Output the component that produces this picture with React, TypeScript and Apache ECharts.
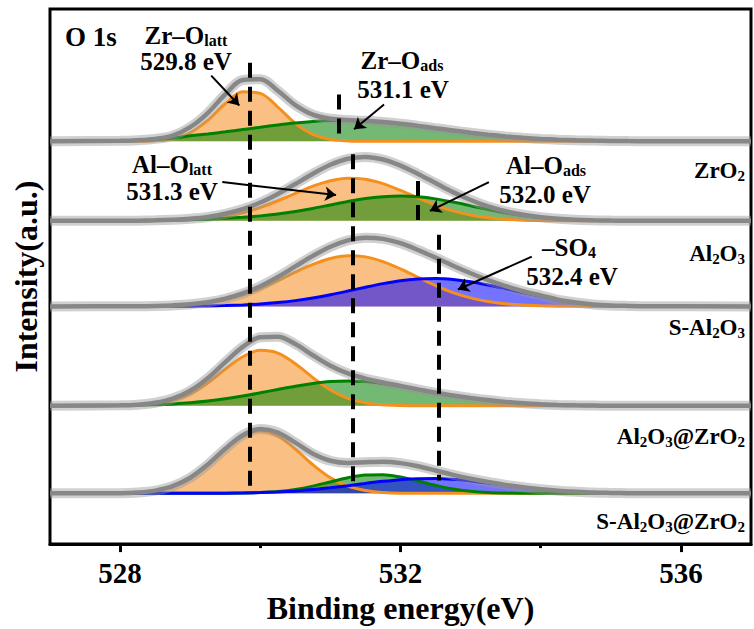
import React, { useEffect, useRef } from 'react';
import * as echarts from 'echarts';

const SERIF = "'Liberation Serif','Times New Roman',Times,serif";

// Binding energy grid (eV) used for all fitted components
const energy = [528, 528.25, 528.5, 528.75, 529, 529.25, 529.5, 529.75, 530, 530.25, 530.5, 530.75, 531, 531.25, 531.5, 531.75, 532, 532.25, 532.5, 532.75, 533, 533.25, 533.5, 533.75, 534, 534.25, 534.5, 534.75, 535, 535.25, 535.5];
const energyRange = [527, 537];

// ZrO2
const zrO2Latt = [0, 0.1, 0.6, 2.6, 8.6, 21, 37.7, 49.8, 48.2, 34.4, 18, 6.9, 1.9, 0.4, 0.1, 0, 0, 0, 0, 0, 0, 0, 0, 0, 0, 0, 0, 0, 0, 0, 0];
const zrO2Ads = [0.5, 1.0, 1.8, 3.0, 5.6, 7.4, 9.5, 11.8, 14.1, 16.4, 18.4, 19.9, 20.8, 21.0, 20.5, 19.3, 17.6, 15.5, 13.2, 10.9, 8.6, 6.6, 4.9, 3.5, 2.4, 1.6, 1.1, 0.7, 0.4, 0.2, 0.1];
// Al2O3
const al2o3Latt = [0, 0.1, 0.2, 0.5, 1.1, 2.3, 4.6, 8.2, 13.4, 20.1, 27.6, 34.9, 40.4, 42.9, 41.8, 37.4, 30.6, 23.0, 15.9, 10.0, 5.8, 3.1, 1.5, 0.7, 0.3, 0.1, 0, 0, 0, 0, 0];
const al2o3Ads = [0, 0.1, 0.3, 0.6, 1.0, 1.6, 2.5, 3.6, 5.0, 7.0, 9.5, 12.5, 16.0, 19.5, 22.5, 24.3, 25, 24.2, 22.1, 18.9, 15.2, 11.4, 8.1, 5.4, 3.4, 2.0, 1.1, 0.6, 0.3, 0.1, 0];
// S-Al2O3
const sAl2o3Latt = [0.1, 0.2, 0.4, 0.9, 1.9, 3.8, 6.9, 11.6, 18.0, 25.8, 34.4, 42.3, 48.2, 50.9, 49.8, 45.0, 37.7, 29.2, 21.0, 13.9, 8.6, 4.9, 2.6, 1.3, 0.6, 0.2, 0.1, 0, 0, 0, 0];
const sAl2o3Sulfate = [0, 0, 0, 0.1, 0.2, 0.4, 0.8, 1.4, 2.3, 3.8, 5.8, 8.5, 11.7, 15.4, 19.3, 22.9, 25.8, 27.5, 28.0, 27.0, 24.7, 21.5, 17.8, 13.9, 10.4, 6.5, 3.8, 2.0, 1.0, 0.5, 0.2];
// Al2O3@ZrO2
const alZrLatt = [0.2, 0.6, 2.0, 5.4, 12.1, 23.0, 36.8, 49.4, 55.8, 53.0, 42.3, 28.4, 16.0, 7.6, 3.0, 1.0, 0.3, 0.1, 0, 0, 0, 0, 0, 0, 0, 0, 0, 0, 0, 0, 0];
const alZrAds = [0.3, 0.6, 1.1, 1.9, 3.1, 4.8, 7.1, 9.9, 13.1, 16.5, 19.8, 22.5, 24.4, 25, 24.4, 22.5, 19.8, 16.5, 13.1, 10.5, 8.0, 5.8, 4.0, 2.6, 1.6, 0.9, 0.5, 0.3, 0.1, 0, 0];
// S-Al2O3@ZrO2
const sAlZrLatt = [0.2, 0.9, 2.8, 7.2, 15.7, 28.8, 44.5, 57.8, 63, 57.8, 44.5, 28.8, 15.7, 7.2, 2.8, 0.9, 0.2, 0.1, 0, 0, 0, 0, 0, 0, 0, 0, 0, 0, 0, 0, 0];
const sAlZrAds = [0, 0, 0, 0, 0, 0, 0.1, 0.3, 0.8, 1.9, 4.0, 7.3, 11.5, 15.7, 18.5, 18.8, 16.4, 12.4, 8.1, 4.5, 2.2, 0.9, 0.3, 0.1, 0, 0, 0, 0, 0, 0, 0];
const sAlZrSulfate = [0, 0, 0, 0, 0, 0.1, 0.2, 0.4, 0.8, 1.5, 2.5, 3.8, 5.6, 7.7, 10.0, 12.1, 13.8, 14.8, 14.9, 14.1, 12.5, 10.5, 8.2, 6.0, 4.2, 2.7, 1.7, 0.9, 0.5, 0.2, 0.1];

const panelNames = ['ZrO2', 'Al2O3', 'S-Al2O3', 'Al2O3@ZrO2', 'S-Al2O3@ZrO2'];
const panelLabels = [
  '{n|ZrO}{s|2}',
  '{n|Al}{s|2}{n|O}{s|3}',
  '{n|S-Al}{s|2}{n|O}{s|3}',
  '{n|Al}{s|2}{n|O}{s|3}{n|@ZrO}{s|2}',
  '{n|S-Al}{s|2}{n|O}{s|3}{n|@ZrO}{s|2}',
];
const baselines = [405, 325, 239, 139, 51];
const panelComponents: [string, number[]][][] = [
  [['latt', zrO2Latt], ['ads', zrO2Ads]],
  [['latt', al2o3Latt], ['ads', al2o3Ads]],
  [['latt', sAl2o3Latt], ['so4', sAl2o3Sulfate]],
  [['latt', alZrLatt], ['ads', alZrAds]],
  [['latt', sAlZrLatt], ['ads', sAlZrAds], ['so4', sAlZrSulfate]],
];

// reference dashed lines (eV, from, to)
const guideEnergy = [529.85, 531.12, 531.32, 532.25, 532.55];
const guideTop = [484, 452, 392, 365, 311];
const guideBottom = [50, 405, 62, 322, 64];

// annotation arrows
const arrowFrom = [[529.3, 471], [531.765, 442], [529.457, 364], [533.261, 364], [533.873, 289]];
const arrowTo = [[529.7, 441], [531.338, 417], [531.081, 351], [532.42, 335], [532.819, 256]];

const annTexts = ['{n|Zr–O}{s|latt}', '{n|529.8 eV}', '{n|Zr–O}{s|ads}', '{n|531.1 eV}', '{n|Al–O}{s|latt}', '{n|531.3 eV}', '{n|Al–O}{s|ads}', '{n|532.0 eV}', '{n|–SO}{s|4}', '{n|532.4 eV}'];
const annX = [186, 186, 402, 403, 172, 172, 546, 545, 569, 572];
const annY = [35, 61, 60, 89, 164, 191, 165, 194, 247, 276];
const panelLabelY = [170, 253, 327, 436, 521];

const kindStyle: Record<string, { line: string; fill: string }> = {
  latt: { line: '#f5901f', fill: 'rgba(245,140,30,0.55)' },
  ads: { line: '#008000', fill: 'rgba(0,128,0,0.55)' },
  so4: { line: '#0000ff', fill: 'rgba(0,0,255,0.55)' },
};

export default function App() {
  const ref = useRef<HTMLDivElement>(null);
  useEffect(() => {
    if (!ref.current) return;
    const chart = echarts.init(ref.current, undefined, { renderer: 'svg' });
    const xs = [energyRange[0], ...energy, energyRange[1]];
    const series: any[] = [];
    panelComponents.forEach((comps, pi) => {
      const base = baselines[pi];
      const sums = xs.map(() => 0);
      comps.forEach(([kind, vals]) => {
        const padded = [0, ...vals, 0];
        padded.forEach((v, i) => (sums[i] += v));
        const st = kindStyle[kind];
        series.push({
          name: panelNames[pi] + '-' + kind,
          type: 'line',
          data: xs.map((x, i) => [x, base + padded[i]]),
          smooth: 0.35,
          symbol: 'none',
          silent: true,
          lineStyle: { color: st.line, width: 3 },
          areaStyle: { color: st.fill, origin: base, opacity: 1 },
        });
      });
      const env = xs.map((x, i) => [x, base + sums[i]]);
      series.push({
        name: panelNames[pi] + '-data',
        type: 'line',
        data: env,
        smooth: 0.35,
        symbol: 'none',
        silent: true,
        lineStyle: { color: 'rgba(150,150,150,0.45)', width: 10 },
      });
      series.push({
        name: panelNames[pi] + '-fit',
        type: 'line',
        data: env,
        smooth: 0.35,
        symbol: 'none',
        silent: true,
        lineStyle: { color: '#878787', width: 4.5 },
      });
    });
    series.push({
      name: 'guides',
      type: 'line',
      data: [],
      z: 10,
      markLine: {
        silent: true,
        symbol: ['none', 'none'],
        label: { show: false },
        lineStyle: { color: '#000', width: 4, type: [15, 9] },
        emphasis: { disabled: true },
        data: guideEnergy.map((e, i) => [{ coord: [e, guideTop[i]] }, { coord: [e, guideBottom[i]] }]),
      },
    });
    series.push({
      name: 'arrows',
      type: 'line',
      data: [],
      z: 11,
      markLine: {
        silent: true,
        symbol: ['none', 'arrow'],
        symbolSize: 11,
        label: { show: false },
        lineStyle: { color: '#000', width: 2, type: 'solid' },
        emphasis: { disabled: true },
        data: arrowFrom.map((f, i) => [{ coord: f }, { coord: arrowTo[i] }]),
      },
    });

    const annRich = {
      n: { fontSize: 25, fontWeight: 'bold', fontFamily: SERIF, fill: '#000', lineHeight: 24 },
      s: { fontSize: 16, fontWeight: 'bold', fontFamily: SERIF, fill: '#000', lineHeight: 14, padding: [10, 0, 0, 0] },
    };
    const tagRich = {
      n: { fontSize: 23, fontWeight: 'bold', fontFamily: SERIF, fill: '#000', lineHeight: 24 },
      s: { fontSize: 15, fontWeight: 'bold', fontFamily: SERIF, fill: '#000', lineHeight: 14, padding: [11, 0, 0, 0] },
    };
    const graphic: any[] = [
      {
        type: 'text', x: 65, y: 37, z: 20,
        style: { text: 'O 1s', font: `bold 27px ${SERIF}`, fill: '#000', align: 'left', verticalAlign: 'middle' },
      },
    ];
    annTexts.forEach((t, i) => {
      graphic.push({
        type: 'text', x: annX[i], y: annY[i], z: 20,
        style: { text: t, rich: annRich, align: 'center', verticalAlign: 'middle' },
      });
    });
    panelLabels.forEach((t, i) => {
      graphic.push({
        type: 'text', x: 745, y: panelLabelY[i], z: 20,
        style: { text: t, rich: tagRich, align: 'right', verticalAlign: 'middle' },
      });
    });

    chart.setOption({
      animation: false,
      grid: { left: 50, right: 3, top: 9, bottom: 82, show: true, borderColor: '#000', borderWidth: 3, backgroundColor: 'transparent' },
      xAxis: [
        {
          type: 'value', min: 527, max: 537,
          axisLine: { show: true, lineStyle: { color: '#000', width: 3 } },
          axisTick: { show: true, customValues: [528, 532, 536], length: 8, lineStyle: { color: '#000', width: 3 } },
          axisLabel: { customValues: [528, 532, 536], fontSize: 29, fontWeight: 'bold', fontFamily: SERIF, color: '#000', margin: 14 },
          splitLine: { show: false },
          name: 'Binding energy(eV)', nameLocation: 'middle', nameGap: 46,
          nameTextStyle: { fontSize: 32, fontWeight: 'bold', fontFamily: SERIF, color: '#000' },
        },
        {
          type: 'value', min: 527, max: 537, position: 'bottom',
          axisLine: { show: false },
          axisLabel: { show: false },
          axisTick: { show: true, customValues: [530, 534], length: 4, lineStyle: { color: '#000', width: 3 } },
          splitLine: { show: false },
        },
      ],
      yAxis: {
        type: 'value', min: 0, max: 538,
        axisLine: { show: false }, axisTick: { show: false }, axisLabel: { show: false }, splitLine: { show: false },
        name: 'Intensity(a.u.)', nameLocation: 'middle', nameGap: 8,
        nameTextStyle: { fontSize: 32, fontWeight: 'bold', fontFamily: SERIF, color: '#000' },
      },
      series,
      graphic,
    });
    return () => chart.dispose();
  }, []);
  return <div ref={ref} style={{ position: 'absolute', left: 0, top: 0, width: 754, height: 629 }} />;
}
